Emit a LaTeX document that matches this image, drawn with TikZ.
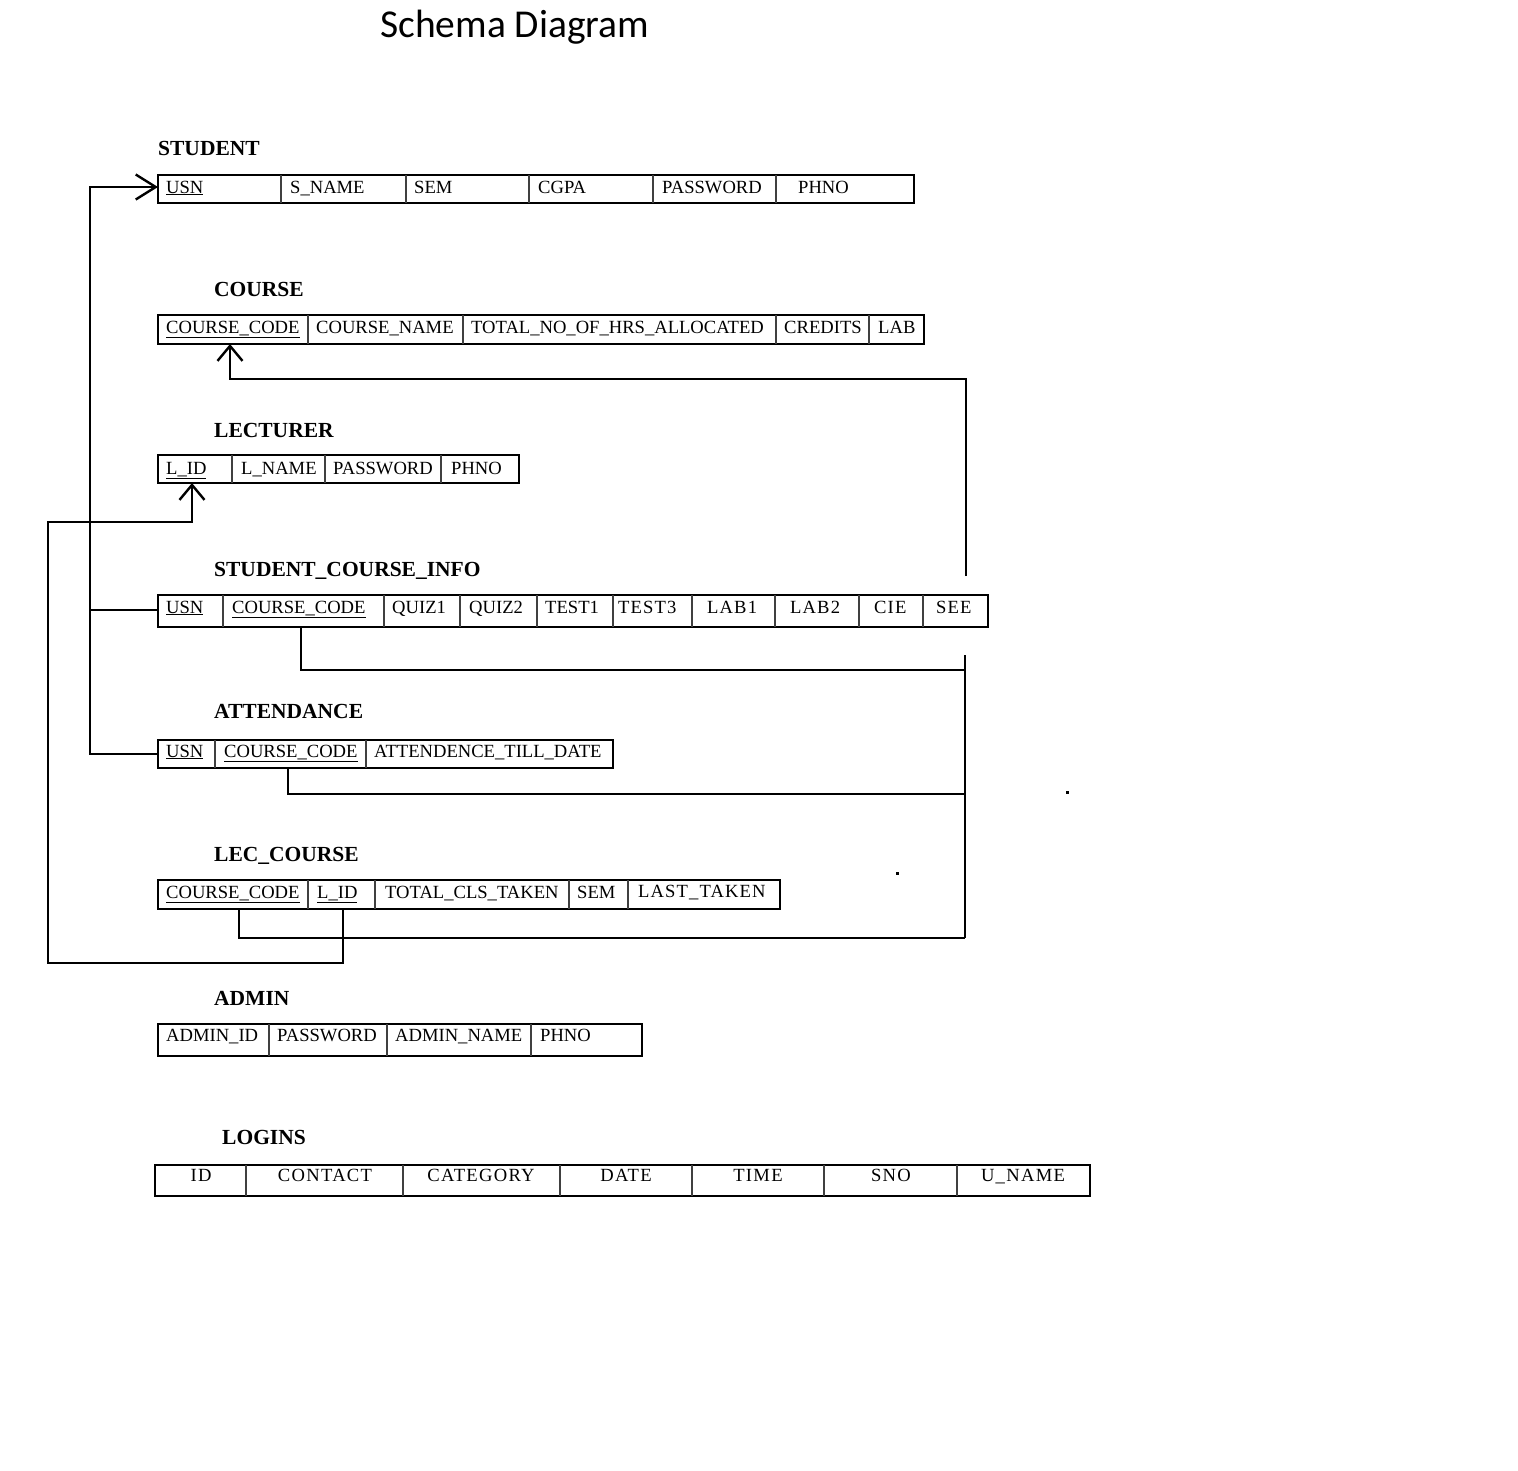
\documentclass[tikz,border=0pt]{standalone}
\usepackage{fontspec}
\setmainfont{Liberation Serif}
\newfontfamily\titlefont{Carlito}
\usetikzlibrary{arrows.meta}
\begin{document}
\begin{tikzpicture}[x=1pt,y=-1pt,
  tbl/.style={draw,line width=2.8pt},
  divline/.style={draw=black!75,line width=1.2pt},
  cell/.style={anchor=base west,inner sep=0pt,font=\fontsize{18.6}{20}\selectfont},
  widecell/.style={anchor=base west,inner sep=0pt,font=\fontsize{18.6}{20}\selectfont\addfontfeature{LetterSpace=6}},
  lgcell/.style={anchor=base,inner sep=0pt,font=\fontsize{18.6}{20}\selectfont\addfontfeature{LetterSpace=7}},
  hdr/.style={anchor=base west,inner sep=0pt,font=\fontsize{21.5}{24}\selectfont\bfseries},
  conn/.style={line width=2.4pt},
  barb/.style={-{Straight Barb[length=15pt,width=25pt,line width=2.4pt]}},
  longbarb/.style={-{Straight Barb[length=20pt,width=25pt,line width=2.4pt]}}
]
\useasboundingbox (0,0) rectangle (1518,1470);

% title
\node[anchor=base west,inner sep=0pt,font=\titlefont\fontsize{39.5}{42}\selectfont] (title) at (380,37) {Schema Diagram};

% ---------- STUDENT ----------
\node[hdr] (hstu) at (158,155) {STUDENT};
\draw[tbl] (158,175) rectangle (914,203);
\foreach \x in {281,406,529,653,776} \draw[divline] (\x,175) -- (\x,203);
\foreach \x/\t [count=\i] in {166/\underline{USN},290/S\_NAME,414/SEM,538/CGPA,662/PASSWORD,798/PHNO}
  \node[cell] (stu-\i) at (\x,193) {\t};

% ---------- COURSE ----------
\node[hdr] (hcrs) at (214,296) {COURSE};
\draw[tbl] (158,315) rectangle (924,344);
\foreach \x in {308,463,776,869} \draw[divline] (\x,315) -- (\x,344);
\foreach \x/\t [count=\i] in {166/\underline{COURSE\_CODE},316/COURSE\_NAME,471/TOTAL\_NO\_OF\_HRS\_ALLOCATED,784/CREDITS,878/LAB}
  \node[cell] (crs-\i) at (\x,333) {\t};

% ---------- LECTURER ----------
\node[hdr] (hlec) at (214,437) {LECTURER};
\draw[tbl] (158,455) rectangle (519,483);
\foreach \x in {232,325,441} \draw[divline] (\x,455) -- (\x,483);
\foreach \x/\t [count=\i] in {166/\underline{L\_ID},241/L\_NAME,333/PASSWORD,451/PHNO}
  \node[cell] (lec-\i) at (\x,474) {\t};

% ---------- STUDENT_COURSE_INFO ----------
\node[hdr] (hsci) at (214,576) {STUDENT\_COURSE\_INFO};
\draw[tbl] (158,595) rectangle (988,627);
\foreach \x in {223,384,460,537,613,692,775,859,923} \draw[divline] (\x,595) -- (\x,627);
\foreach \x/\t [count=\i] in {166/\underline{USN},232/\underline{COURSE\_CODE},392/QUIZ1,469/QUIZ2,545/TEST1}
  \node[cell] (sci-\i) at (\x,613) {\t};
\node[widecell] (sci-6) at (618,613) {TEST3};
\node[widecell] (sci-7) at (707,613) {LAB1};
\node[widecell] (sci-8) at (790,613) {LAB2};
\node[widecell] (sci-9) at (874,613) {CIE};
\node[widecell] (sci-10) at (936,613) {SEE};

% ---------- ATTENDANCE ----------
\node[hdr] (hatt) at (214,718) {ATTENDANCE};
\draw[tbl] (158,740) rectangle (613,768);
\foreach \x in {215,366} \draw[divline] (\x,740) -- (\x,768);
\foreach \x/\t [count=\i] in {166/\underline{USN},224/\underline{COURSE\_CODE},374/ATTENDENCE\_TILL\_DATE}
  \node[cell] (att-\i) at (\x,757) {\t};

% ---------- LEC_COURSE ----------
\node[hdr] (hlc) at (214,861) {LEC\_COURSE};
\draw[tbl] (158,880) rectangle (780,909);
\foreach \x in {308,375,569,628} \draw[divline] (\x,880) -- (\x,909);
\foreach \x/\t [count=\i] in {166/\underline{COURSE\_CODE},317/\underline{L\_ID},385/TOTAL\_CLS\_TAKEN,577/SEM}
  \node[cell] (lc-\i) at (\x,898) {\t};
\node[widecell] (lc-5) at (638,897) {LAST\_TAKEN};

% ---------- ADMIN ----------
\node[hdr] (hadm) at (214,1005) {ADMIN};
\draw[tbl] (158,1024) rectangle (642,1056);
\foreach \x in {269,387,531} \draw[divline] (\x,1024) -- (\x,1056);
\foreach \x/\t [count=\i] in {166/ADMIN\_ID,277/PASSWORD,395/ADMIN\_NAME,540/PHNO}
  \node[cell] (adm-\i) at (\x,1041) {\t};

% ---------- LOGINS ----------
\node[hdr] (hlog) at (222,1144) {LOGINS};
\draw[tbl] (155,1165) rectangle (1090,1196);
\foreach \x in {246,403,560,692,824,957} \draw[divline] (\x,1165) -- (\x,1196);
\foreach \x/\t [count=\i] in {201/ID,325/CONTACT,481/CATEGORY,626/DATE,758/TIME,891/SNO,1023/U\_NAME}
  \node[lgcell] (log-\i) at (\x,1181) {\t};

% ---------- connector anchors ----------
\coordinate (stuUSN) at (158,187);
\coordinate (sciUSN) at (158,610);
\coordinate (attUSN) at (158,754);
\coordinate (trunk) at (90,187);

\coordinate (crsCC) at (230,344);
\coordinate (busTop) at (966,379);
\coordinate (busGapA) at (966,576);
\coordinate (busGapB) at (965,655);
\coordinate (busBot) at (965,938);
\coordinate (sciCC) at (301,627);
\coordinate (attCC) at (288,768);
\coordinate (lcCC) at (239,909);
\coordinate (joinSci) at (965,670);
\coordinate (joinAtt) at (965,794);

\coordinate (lecLID) at (192,483);
\coordinate (lcLID) at (343,909);
\coordinate (lcornerB) at (48,963);
\coordinate (lcornerT) at (48,522);

% ---------- connectors ----------
\draw[conn,longbarb] (sciUSN) -- (sciUSN -| trunk) -- (trunk) -- (stuUSN);
\draw[conn] (attUSN) -- (attUSN -| trunk) -- (sciUSN -| trunk);

\draw[conn,barb] (busGapA) -- (busTop) -- (busTop -| crsCC) -- (crsCC);
\draw[conn] (busGapB) -- (busBot);
\draw[conn] (sciCC) |- (joinSci);
\draw[conn] (attCC) |- (joinAtt);
\draw[conn] (lcCC) |- (busBot);

\draw[conn,barb] (lcLID) |- (lcornerB) -- (lcornerT) -| (lecLID);

% stray dots
\fill (1066,791) rectangle (1069,794);
\fill (896,872) rectangle (899,875);
\end{tikzpicture}
\end{document}
